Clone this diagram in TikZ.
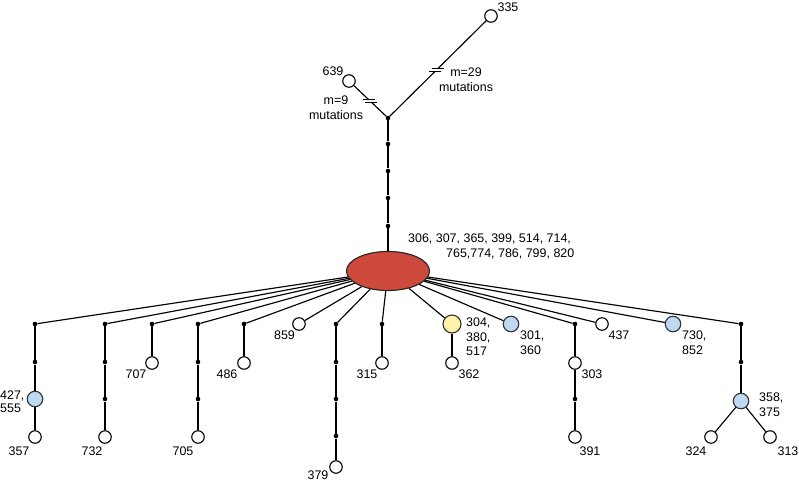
\documentclass[tikz,border=0pt]{standalone}
\usepackage{fontspec}
\setmainfont{Liberation Sans}
\usetikzlibrary{shapes.geometric,calc}
\definecolor{hubred}{RGB}{205,74,60}
\definecolor{nodeblue}{RGB}{190,218,242}
\definecolor{nodeyellow}{RGB}{255,242,170}
\tikzset{
  edge/.style={draw=black,line width=1.15bp},
  dotnode/.style={circle,fill=black,inner sep=0pt,minimum size=4.6bp},
  wnode/.style={circle,draw=black,line width=1.15bp,fill=white,inner sep=0pt,minimum size=12.5bp},
  bnode/.style={circle,draw=black!80,line width=1.15bp,fill=nodeblue,inner sep=0pt,minimum size=15.5bp},
  ynode/.style={circle,draw=black!80,line width=1.15bp,fill=nodeyellow,inner sep=0pt,minimum size=18bp},
  hubnode/.style={ellipse,draw=black!85,line width=1.15bp,fill=hubred,inner sep=0pt,minimum width=83bp,minimum height=39bp},
  lab/.style={inner sep=0pt,font=\fontsize{12.5}{14.5}\selectfont,align=left},
  labc/.style={inner sep=0pt,font=\fontsize{12.5}{15}\selectfont,align=center},
  brk/.style={line width=1.15bp}
}
\begin{document}
\begin{tikzpicture}[x=1bp,y=-1bp]
\useasboundingbox (0,0) rectangle (799,482);
% hub and top chain
\node[hubnode] (hub) at (388,271) {};
\node[dotnode] (j0) at (388,118) {};
\node[dotnode] (v1) at (388,144) {};
\node[dotnode] (v2) at (388,171) {};
\node[dotnode] (v3) at (388,198) {};
\node[dotnode] (v4) at (388,226) {};
\node[wnode] (n639) at (349,81) {};
\node[wnode] (n335) at (491,16) {};
\draw[edge] (hub) -- (v4) -- (v3) -- (v2) -- (v1) -- (j0);
\coordinate (b1a) at ($(j0)!0.43!(n639)$);
\coordinate (b1b) at ($(j0)!0.50!(n639)$);
\coordinate (b2a) at ($(j0)!0.455!(n335)$);
\coordinate (b2b) at ($(j0)!0.485!(n335)$);
\draw[edge] (j0) -- (b1a);
\draw[edge] (b1b) -- (n639);
\draw[edge] (j0) -- (b2a);
\draw[edge] (b2b) -- (n335);
\draw[brk] ([xshift=-6bp]b1a) -- ([xshift=6bp]b1a);
\draw[brk] ([xshift=-6bp]b1b) -- ([xshift=6bp]b1b);
\draw[brk] ([xshift=-6bp]b2a) -- ([xshift=6bp]b2a);
\draw[brk] ([xshift=-6bp]b2b) -- ([xshift=6bp]b2b);
% bottom nodes
\node[dotnode] (A1) at (35,324) {};
\node[dotnode] (A2) at (35,362) {};
\node[bnode] (A3) at (35,399) {};
\node[wnode] (A4) at (35,437) {};
\node[dotnode] (B1) at (105,324) {};
\node[dotnode] (B2) at (105,362) {};
\node[dotnode] (B3) at (105,399) {};
\node[wnode] (B4) at (105,437) {};
\node[dotnode] (C1) at (152,324) {};
\node[wnode] (C2) at (152,363) {};
\node[dotnode] (D1) at (198,324) {};
\node[dotnode] (D2) at (198,362) {};
\node[dotnode] (D3) at (198,399) {};
\node[wnode] (D4) at (198,437) {};
\node[dotnode] (E1) at (244,324) {};
\node[wnode] (E2) at (244,363) {};
\node[wnode] (n859) at (299,324) {};
\node[dotnode] (F1) at (336,324) {};
\node[dotnode] (F2) at (336,362) {};
\node[dotnode] (F3) at (336,399) {};
\node[dotnode] (F4) at (336,436) {};
\node[wnode] (F5) at (336,467) {};
\node[dotnode] (G1) at (382,324) {};
\node[wnode] (G2) at (382,363) {};
\node[ynode] (Y1) at (452,324) {};
\node[wnode] (Y2) at (452,363) {};
\node[bnode] (b301) at (511,324) {};
\node[dotnode] (H1) at (575,324) {};
\node[wnode] (H2) at (575,363) {};
\node[dotnode] (H3) at (575,399) {};
\node[wnode] (H4) at (575,437) {};
\node[wnode] (n437) at (602,324) {};
\node[bnode] (b730) at (673,324) {};
\node[dotnode] (I1) at (741,324) {};
\node[dotnode] (I2) at (741,362) {};
\node[bnode] (I3) at (741,401) {};
\node[wnode] (I4) at (711,437) {};
\node[wnode] (I5) at (770,437) {};
% spokes
\foreach \t in {A1,B1,C1,D1,E1,n859,F1,G1,Y1,b301,H1,n437,b730,I1}
  \draw[edge] (hub) -- (\t);
% chains
\draw[edge] (A1) -- (A2) -- (A3) -- (A4);
\draw[edge] (B1) -- (B2) -- (B3) -- (B4);
\draw[edge] (C1) -- (C2);
\draw[edge] (D1) -- (D2) -- (D3) -- (D4);
\draw[edge] (E1) -- (E2);
\draw[edge] (F1) -- (F2) -- (F3) -- (F4) -- (F5);
\draw[edge] (G1) -- (G2);
\draw[edge] (Y1) -- (Y2);
\draw[edge] (H1) -- (H2) -- (H3) -- (H4);
\draw[edge] (I1) -- (I2) -- (I3);
\draw[edge] (I3) -- (I4);
\draw[edge] (I3) -- (I5);
% labels
\node[lab,anchor=west] (lhub) at (408,246.5) {306, 307, 365, 399, 514, 714,\\\hspace*{38bp}765,774, 786, 799, 820};
\node[lab] (l639) at (333,71) {639};
\node[lab] (l335) at (508,7) {335};
\node[labc] (lm9) at (336,107.5) {m=9\\mutations};
\node[labc] (lm29) at (466,79.5) {m=29\\mutations};
\node[lab,anchor=west,font=\fontsize{12.5}{12.8}\selectfont] (l427) at (0,402) {427,\\555};
\node[lab] (l357) at (19,451) {357};
\node[lab] (l732) at (92,451) {732};
\node[lab] (l705) at (183,451) {705};
\node[lab] (l707) at (136,374) {707};
\node[lab] (l486) at (227,374) {486};
\node[lab] (l859) at (284.5,335) {859};
\node[lab] (l379) at (318,475.5) {379};
\node[lab] (l315) at (367,374) {315};
\node[lab,anchor=west] (l304) at (466,337) {304,\\380,\\517};
\node[lab] (l362) at (469,374) {362};
\node[lab,anchor=west] (l301) at (520,342.5) {301,\\360};
\node[lab] (l303) at (592,374) {303};
\node[lab] (l391) at (590,451) {391};
\node[lab] (l437) at (619,335) {437};
\node[lab,anchor=west] (l730) at (682,342.5) {730,\\852};
\node[lab,anchor=west] (l358) at (759,404.5) {358,\\375};
\node[lab] (l324) at (696,451) {324};
\node[lab] (l313) at (788,451) {313};
\end{tikzpicture}
\end{document}
